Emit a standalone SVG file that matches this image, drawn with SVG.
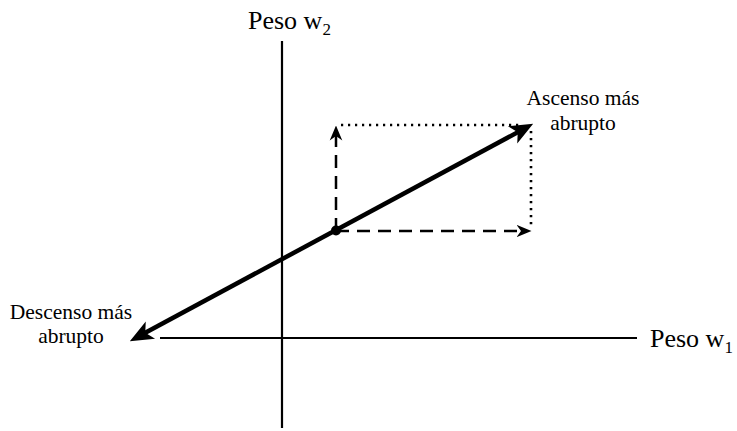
<svg xmlns="http://www.w3.org/2000/svg" width="737" height="431" viewBox="0 0 737 431">
<style>
.lbl{font-family:"Liberation Serif","Times New Roman",serif;fill:#000}
.axis{stroke:#000;stroke-width:2.2;fill:none}
.main{stroke:#000;stroke-width:4.5;fill:none}
.dash{stroke:#000;stroke-width:2.5;fill:none;stroke-dasharray:13 8}
.dot{stroke:#000;stroke-width:2.6;fill:none;stroke-dasharray:2.2 4.8}
</style>
<defs>
<marker id="big" viewBox="0 0 10 10" refX="7" refY="5" markerWidth="5.2" markerHeight="5.2" orient="auto-start-reverse" markerUnits="strokeWidth">
<path d="M0,0.8 L10,5 L0,9.2 L2.5,5 Z" fill="#000"/>
</marker>
<marker id="small" viewBox="0 0 10 10" refX="7" refY="5" markerWidth="6" markerHeight="6" orient="auto" markerUnits="strokeWidth">
<path d="M0,0.8 L10,5 L0,9.2 L3,5 Z" fill="#000"/>
</marker>
</defs>
<g id="axes">
<line class="axis" x1="282" y1="41" x2="282" y2="428"/>
<line class="axis" x1="160" y1="338" x2="637" y2="338"/>
</g>
<g id="connectors">
<line class="dot" x1="341" y1="125" x2="520" y2="125"/>
<line class="dot" x1="531" y1="131" x2="531" y2="229"/>
<line class="dash" x1="336" y1="231" x2="336" y2="130" marker-end="url(#small)"/>
<line class="dash" x1="336" y1="231" x2="527" y2="231" marker-end="url(#small)"/>
<line class="main" x1="136" y1="337.8" x2="527" y2="127.2" marker-start="url(#big)" marker-end="url(#big)"/>
</g>
<g id="point"><circle cx="336" cy="230.5" r="5" fill="#000"/></g>
<g id="label-w2"><text class="lbl" x="248" y="29" font-size="26">Peso w<tspan font-size="17" dy="6">2</tspan></text></g>
<g id="label-w1"><text class="lbl" x="650" y="347" font-size="26">Peso w<tspan font-size="17" dy="6">1</tspan></text></g>
<g id="label-ascenso"><text class="lbl" font-size="21.5" text-anchor="middle"><tspan x="583" y="105">Ascenso más</tspan><tspan x="583" y="130">abrupto</tspan></text></g>
<g id="label-descenso"><text class="lbl" font-size="21.5" text-anchor="middle"><tspan x="71" y="319">Descenso más</tspan><tspan x="71" y="343">abrupto</tspan></text></g>
</svg>
